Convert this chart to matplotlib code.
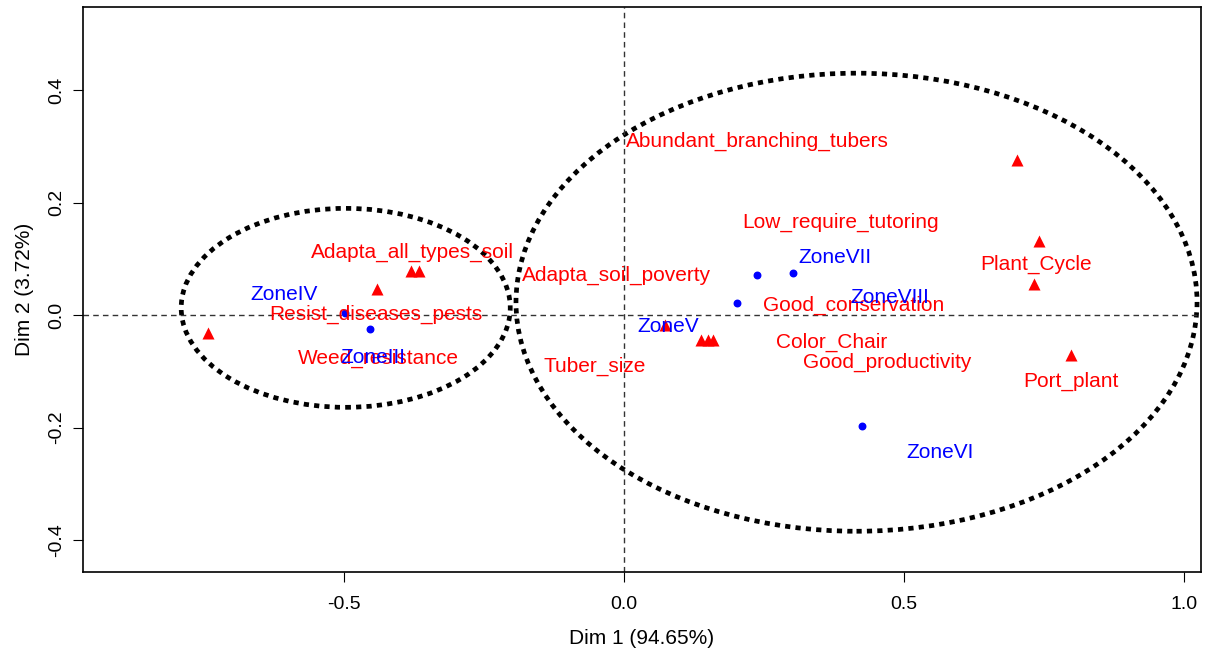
import matplotlib
matplotlib.use("Agg")
import matplotlib.pyplot as plt
from matplotlib.patches import Ellipse

plt.rcParams["font.family"] = ["Liberation Sans", "DejaVu Sans"]

# column points (red triangles)
col_x = [-0.743, -0.441, -0.380, -0.366, 0.073, 0.1375, 0.150, 0.159, 0.702, 0.741, 0.732, 0.798]
col_y = [-0.032, 0.046, 0.078, 0.078, -0.018, -0.045, -0.045, -0.045, 0.276, 0.132, 0.055, -0.071]

# column labels
col_labels = ["Adapta_all_types_soil", "Resist_diseases_pests", "Weed_resistance",
              "Abundant_branching_tubers", "Low_require_tutoring", "Adapta_soil_poverty",
              "Good_conservation", "Color_Chair", "Good_productivity", "Tuber_size",
              "Plant_Cycle", "Port_plant"]
col_lx = [-0.377, -0.443, -0.439, 0.2375, 0.386, -0.014, 0.409, 0.370, 0.470, -0.052, 0.736, 0.798]
col_ly = [0.112, 0.002, -0.077, 0.310, 0.165, 0.071, 0.018, -0.048, -0.084, -0.091, 0.091, -0.117]

# row points (blue)
row_x = [-0.498, -0.454, 0.2375, 0.302, 0.202, 0.425]
row_y = [0.004, -0.025, 0.071, 0.075, 0.021, -0.198]

row_labels = ["ZoneIV", "ZoneIII", "ZoneV", "ZoneVII", "ZoneVIII", "ZoneVI"]
row_lx = [-0.607, -0.448, 0.079, 0.377, 0.475, 0.564]
row_ly = [0.036, -0.075, -0.021, 0.103, 0.032, -0.244]

# groups (ellipses): center x, center y, width, height
ell_cx = [-0.497, 0.415]
ell_cy = [0.013, 0.023]
ell_w = [0.5875, 1.216]
ell_h = [0.354, 0.815]

fig = plt.figure(figsize=(12.07, 6.5), dpi=100)
ax = fig.add_axes([0.0688, 0.12, 0.9262, 0.869])

ax.axhline(0, color="#333333", linestyle=(0, (4, 3)), linewidth=1)
ax.axvline(0, color="#333333", linestyle=(0, (4, 3)), linewidth=1)

for cx, cy, w, h in zip(ell_cx, ell_cy, ell_w, ell_h):
    ax.add_patch(Ellipse((cx, cy), w, h, fill=False, edgecolor="black",
                         linewidth=3.4, linestyle=(0, (1.1, 1.1))))

ax.scatter(row_x, row_y, marker="o", s=22, color="blue", zorder=3)
ax.scatter(col_x, col_y, marker="^", s=75, color="red", zorder=3, linewidths=0)

for lab, x, y in zip(col_labels, col_lx, col_ly):
    ax.text(x, y, lab, color="red", fontsize=15, ha="center", va="center")
for lab, x, y in zip(row_labels, row_lx, row_ly):
    ax.text(x, y, lab, color="blue", fontsize=15, ha="center", va="center")

ax.set_xlim(-0.966, 1.030)
ax.set_ylim(-0.457, 0.548)
ax.set_xticks([-0.5, 0.0, 0.5, 1.0])
ax.set_yticks([-0.4, -0.2, 0.0, 0.2, 0.4])
ax.set_xticklabels(["-0.5", "0.0", "0.5", "1.0"])
ax.set_yticklabels(["-0.4", "-0.2", "0.0", "0.2", "0.4"], rotation=90, va="center")
ax.tick_params(direction="out", length=7, labelsize=14)
ax.tick_params(axis="x", pad=10)
ax.tick_params(axis="y", pad=6)
ax.set_xlabel("Dim 1 (94.65%)", fontsize=15, labelpad=12)
ax.set_ylabel("Dim 2 (3.72%)", fontsize=15, labelpad=10)
for s in ax.spines.values():
    s.set_linewidth(1.2)

fig.savefig("out.png", dpi=100)
